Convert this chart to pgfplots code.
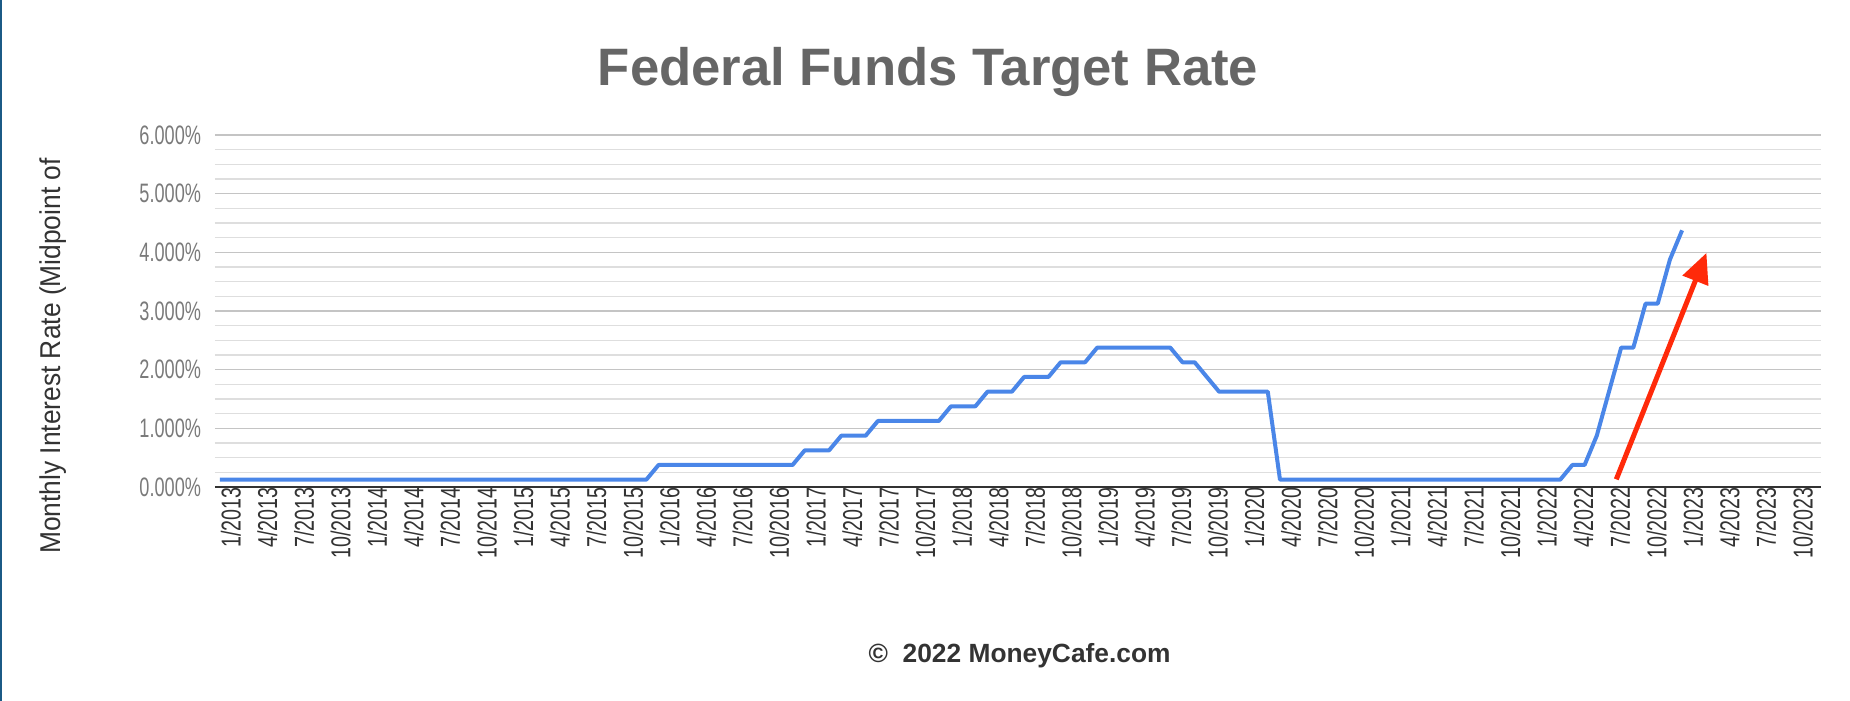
\documentclass[border=0pt]{standalone}
\usepackage{pgfplots}
\pgfplotsset{compat=1.18}
\usepackage{pgfplotstable}
\usepackage{fontspec}
\setmainfont{Liberation Sans}
\newfontfamily\narrowY[FakeStretch=0.68]{Liberation Sans}
\newfontfamily\narrowX[FakeStretch=0.72]{Liberation Sans}
\newfontfamily\narrowL[FakeStretch=0.92]{Liberation Sans}
\usetikzlibrary{arrows.meta}
\definecolor{lineblue}{HTML}{4A86E8}
\definecolor{arrowred}{HTML}{FF2A0A}
\definecolor{majgrid}{HTML}{C4C4C4}
\definecolor{mingrid}{HTML}{DEDEDE}
\definecolor{titlegray}{HTML}{666666}
\definecolor{ticklabgray}{HTML}{7A7A7A}
\definecolor{xlabdark}{HTML}{333333}
\definecolor{borderblue}{HTML}{1B5A86}

\pgfplotstableread{
idx rate
0 0.125
35 0.125
36 0.375
47 0.375
48 0.625
50 0.625
51 0.875
53 0.875
54 1.125
59 1.125
60 1.375
62 1.375
63 1.625
65 1.625
66 1.875
68 1.875
69 2.125
71 2.125
72 2.375
78 2.375
79 2.125
80 2.125
81 1.875
82 1.625
86 1.625
87 0.125
110 0.125
111 0.375
112 0.375
113 0.875
114 1.625
115 2.375
116 2.375
117 3.125
118 3.125
119 3.875
120 4.375
}\ratetable

\begin{document}
\begin{tikzpicture}
\useasboundingbox (0,0) rectangle (555pt,210.3pt);
\fill[borderblue] (0,0) rectangle (0.6pt,210.3pt);
\begin{axis}[
  at={(64.5pt,64.2pt)}, anchor=south west,
  scale only axis,
  width=481.8pt, height=105.6pt,
  xmin=-0.4, xmax=131.4,
  ymin=0, ymax=6,
  axis x line=bottom,
  axis y line=left,
  y axis line style={draw=none},
  x axis line style={draw=xlabdark, line width=0.6pt, -},
  major tick length=0pt, minor tick length=0pt,
  ytick={0,1,2,3,4,5,6},
  minor y tick num=3,
  ymajorgrids, yminorgrids,
  major grid style={draw=majgrid, line width=0.45pt},
  minor grid style={draw=mingrid, line width=0.45pt},
  yticklabels={0.000\%,1.000\%,2.000\%,3.000\%,4.000\%,5.000\%,6.000\%},
  yticklabel style={font=\narrowY\fontsize{8}{9}\selectfont, text=ticklabgray, anchor=east, inner sep=0pt, xshift=-4pt},
  xtick={0,3,...,129},
  xticklabels={1/2013,4/2013,7/2013,10/2013,1/2014,4/2014,7/2014,10/2014,1/2015,4/2015,7/2015,10/2015,1/2016,4/2016,7/2016,10/2016,1/2017,4/2017,7/2017,10/2017,1/2018,4/2018,7/2018,10/2018,1/2019,4/2019,7/2019,10/2019,1/2020,4/2020,7/2020,10/2020,1/2021,4/2021,7/2021,10/2021,1/2022,4/2022,7/2022,10/2022,1/2023,4/2023,7/2023,10/2023},
  xticklabel style={font=\narrowX\fontsize{8.2}{9}\selectfont, text=xlabdark, rotate=90, anchor=east, inner sep=0pt, yshift=-3.3pt},
  title={Federal Funds Target Rate},
  title style={at={(axis description cs:0.444,1.122)}, anchor=center, font=\bfseries\fontsize{15.8}{18}\selectfont, text=titlegray},
  ylabel={Monthly Interest Rate (Midpoint of},
  ylabel style={at={(axis description cs:-0.1009,0.372)}, anchor=center, rotate=0, font=\narrowL\fontsize{8.6}{10}\selectfont, text=xlabdark},
  xlabel={\textcopyright\ \ 2022 MoneyCafe.com},
  xlabel style={at={(axis description cs:0.501,-0.478)}, anchor=center, font=\bfseries\fontsize{7.9}{9}\selectfont, text=xlabdark},
  clip=false,
]
\addplot[color=lineblue, line width=1.2pt, line join=round] table[x=idx, y=rate] {\ratetable};
\addplot[color=arrowred, line width=1.5pt, -{Triangle[length=9pt,width=8pt]}] coordinates {(114.6,0.13) (122.0,3.99)};
\end{axis}
\end{tikzpicture}
\end{document}
